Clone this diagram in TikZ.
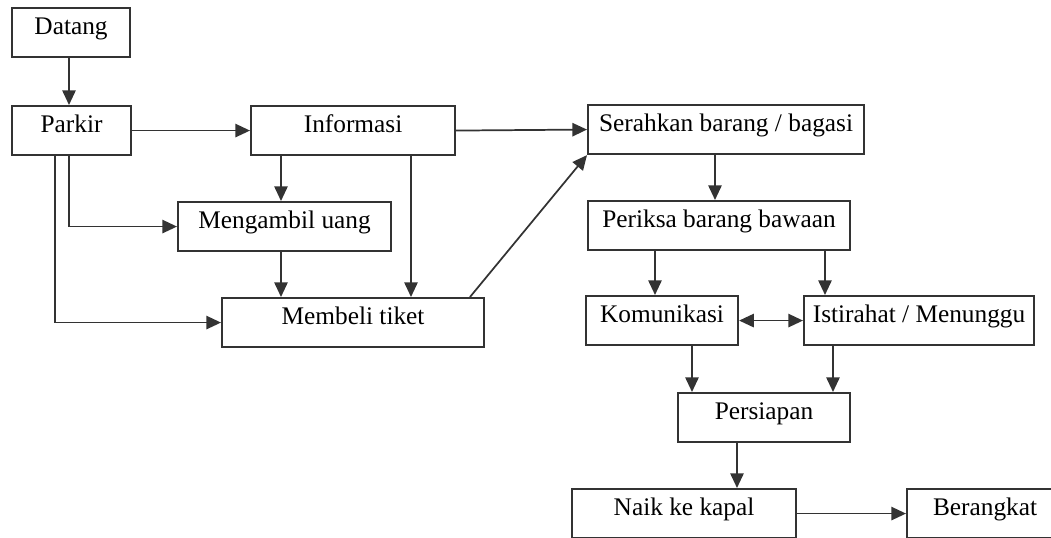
\documentclass[tikz,border=0pt]{standalone}
\usepackage{fontspec}
\setmainfont{Liberation Serif}
\usetikzlibrary{arrows.meta,calc}
\begin{document}
\begin{tikzpicture}[x=0.75pt,y=-0.75pt,
  ink/.style={draw=black!80},
  box/.style={ink, line width=1.6pt, rectangle, inner sep=0pt, anchor=north west,
    minimum width=#1, text height=19.5pt, text depth=17.25pt,
    font=\fontsize{19}{22}\selectfont},
  tip/.style={Triangle[length=11pt,width=10pt]},
  arr/.style={ink, line width=1.3pt, -{Triangle[length=11pt,width=10pt]}},
  darr/.style={ink, line width=1.3pt, {Triangle[length=11pt,width=10pt]}-{Triangle[length=11pt,width=10pt]}}]
\useasboundingbox (0,0) rectangle (1051,538);
\clip (0,0) rectangle (1051,538);

% process boxes (positions given by their top-left corners)
\node[box=88.5pt]  (datang)    at (11,7)    {Datang};
\node[box=89.25pt] (parkir)    at (11,105)  {Parkir};
\node[box=153pt]   (info)      at (250,105) {Informasi};
\node[box=159.75pt](ambil)     at (177,201) {Mengambil uang};
\node[box=196.5pt] (beli)      at (221,297) {Membeli tiket};
\node[box=207pt]   (serah)     at (587,104) {Serahkan barang / bagasi};
\node[box=196.5pt] (periksa)   at (587,200) {Periksa barang bawaan};
\node[box=114pt]   (komu)      at (585,295) {Komunikasi};
\node[box=172.5pt] (istir)     at (803,295) {Istirahat / Menunggu};
\node[box=129pt]   (persiapan) at (677,392) {Persiapan};
\node[box=168pt]   (naik)      at (571,488) {Naik ke kapal};
\node[box=117pt]   (berangkat) at (906,488) {Berangkat};

% flow connectors
\draw[arr] ($(datang.south west)+(58,0)$) -- ($(parkir.north west)+(58,0)$);
\draw[arr] (parkir.east) -- (info.west);
\draw[arr] ($(info.south west)+(31,0)$) -- ($(ambil.north west)+(104,0)$);
\draw[arr] ($(parkir.south west)+(58,0)$) |- (ambil.west);
\draw[arr] ($(parkir.south west)+(44,0)$) |- (beli.west);
\draw[arr] ($(ambil.south west)+(104,0)$) -- ($(beli.north west)+(60,0)$);
\draw[arr] ($(info.south west)+(161,0)$) -- ($(beli.north west)+(190,0)$);
\draw[arr] ($(beli.north west)+(249,0)$) -- (serah.south west);
\draw[arr] (info.east) -- (serah.west);
\draw[arr] ($(serah.south west)+(128,0)$) -- ($(periksa.north west)+(128,0)$);
\draw[arr] ($(periksa.south west)+(68,0)$) -- ($(komu.north west)+(70,0)$);
\draw[arr] ($(periksa.south west)+(238,0)$) -- ($(istir.north west)+(22,0)$);
\draw[darr] (komu.east) -- (istir.west);
\draw[arr] ($(komu.south west)+(107,0)$) -- ($(persiapan.north west)+(15,0)$);
\draw[arr] ($(istir.south west)+(30,0)$) -- ($(persiapan.north west)+(156,0)$);
\draw[arr] ($(persiapan.south west)+(60,0)$) -- ($(naik.north west)+(166,0)$);
\draw[arr] (naik.east) -- (berangkat.west);
\end{tikzpicture}
\end{document}
